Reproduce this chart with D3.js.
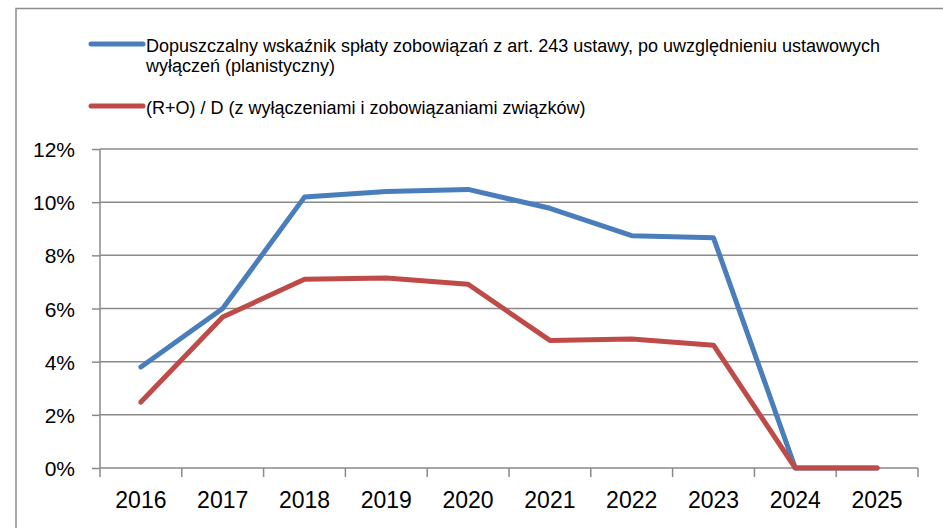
<!DOCTYPE html>
<html>
<head>
<meta charset="utf-8">
<script src="https://cdn.jsdelivr.net/npm/d3@7"></script>
<style>
  body { margin: 0; background: #fff; }
  svg { display: block; font-family: "Liberation Sans", Arial, sans-serif; }
</style>
</head>
<body>
<svg id="chart" width="943" height="528"></svg>
<script>
const years = ["2016", "2017", "2018", "2019", "2020", "2021", "2022", "2023", "2024", "2025"]
const limitValues = [3.8, 6.0, 10.19, 10.4, 10.48, 9.77, 8.74, 8.66, 0, 0]
const ratioValues = [2.48, 5.68, 7.1, 7.15, 6.91, 4.8, 4.85, 4.62, 0, 0]
const yTicks = [0, 2, 4, 6, 8, 10, 12]
const seriesNames = [
  ["Dopuszczalny wskaźnik spłaty zobowiązań z art. 243 ustawy, po uwzględnieniu ustawowych", "wyłączeń (planistyczny)"],
  ["(R+O) / D (z wyłączeniami i zobowiązaniami związków)"]
]
const colors = ["#4a7ebb", "#be4b48"]

const svg = d3.select("#chart")
const plot = { left: 100, right: 918, top: 149, bottom: 468 }

// outer chart frame (only top and left edges visible in the crop)
svg.append("path")
  .attr("d", "M16,528V8.5H943")
  .attr("fill", "none")
  .attr("stroke", "#8c8c8c")
  .attr("stroke-width", 1.5)

const x = d3.scaleBand().domain(years).range([plot.left, plot.right])
const y = d3.scaleLinear().domain([0, 12]).range([plot.bottom, plot.top])

// gridlines
svg.append("g")
  .selectAll("line")
  .data(yTicks.filter((d) => d > 0))
  .enter()
  .append("line")
  .attr("x1", plot.left)
  .attr("x2", plot.right)
  .attr("y1", (d) => y(d))
  .attr("y2", (d) => y(d))
  .attr("stroke", "#8a8a8a")
  .attr("stroke-width", 1.5)

// y axis
const yAxis = svg.append("g")
  .attr("transform", `translate(${plot.left},0)`)
  .call(d3.axisLeft(y).tickValues(yTicks).tickSize(8).tickPadding(17).tickFormat((d) => d + "%"))
yAxis.select(".domain").attr("stroke", "#8a8a8a").attr("stroke-width", 1.5).attr("d", `M0,${plot.top}V${plot.bottom}`)
yAxis.selectAll(".tick line").attr("stroke", "#8a8a8a").attr("stroke-width", 1.5)
yAxis.selectAll(".tick text").attr("font-size", 21).attr("fill", "#000").attr("font-family", "Liberation Sans, Arial, sans-serif").attr("dy", "0.36em")

// x axis, ticks on band boundaries
const xAxis = svg.append("g").attr("transform", `translate(0,${plot.bottom})`)
xAxis.append("line")
  .attr("x1", plot.left).attr("x2", plot.right)
  .attr("stroke", "#8a8a8a").attr("stroke-width", 1.5)
const bounds = years.map((d) => x(d)).concat([plot.right])
xAxis.selectAll("line.tk")
  .data(bounds)
  .enter()
  .append("line")
  .attr("class", "tk")
  .attr("x1", (d) => d).attr("x2", (d) => d)
  .attr("y1", 0).attr("y2", 9)
  .attr("stroke", "#8a8a8a").attr("stroke-width", 1.5)
xAxis.selectAll("text")
  .data(years)
  .enter()
  .append("text")
  .attr("x", (d) => x(d) + x.bandwidth() / 2)
  .attr("y", 40)
  .attr("text-anchor", "middle")
  .attr("font-size", 23)
  .text((d) => d)

// series lines
const line = d3.line()
  .x((d, i) => x(years[i]) + x.bandwidth() / 2)
  .y((d) => y(d))

;[limitValues, ratioValues].forEach((vals, i) => {
  svg.append("path")
    .datum(vals)
    .attr("fill", "none")
    .attr("stroke", colors[i])
    .attr("stroke-width", 5)
    .attr("stroke-linejoin", "round")
    .attr("stroke-linecap", "round")
    .attr("d", line)
})

// legend
const legendY = [44, 106]
seriesNames.forEach((lines, i) => {
  const g = svg.append("g")
  g.append("line")
    .attr("x1", 91).attr("x2", 143)
    .attr("y1", legendY[i]).attr("y2", legendY[i])
    .attr("stroke", colors[i])
    .attr("stroke-width", 5)
    .attr("stroke-linecap", "round")
  lines.forEach((t, j) => {
    g.append("text")
      .attr("x", 146)
      .attr("y", legendY[i] + 7.5 + j * 20.5)
      .attr("font-size", 18)
      .attr("fill", "#000")
      .text(t)
  })
})
</script>
</body>
</html>
